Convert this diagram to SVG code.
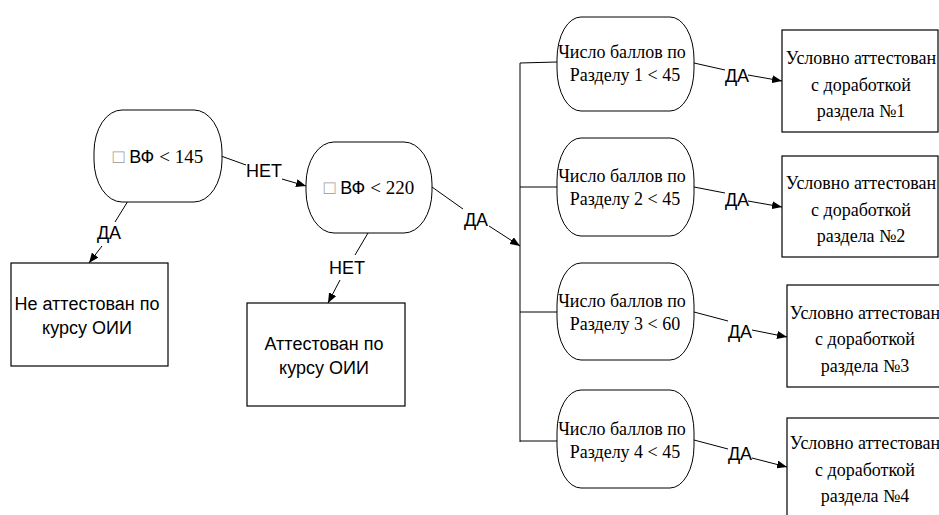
<svg xmlns="http://www.w3.org/2000/svg" width="939" height="515" viewBox="0 0 939 515">
<style>
.shape{fill:#fff;stroke:#000;stroke-width:1}
.box{fill:#fff;stroke:#000;stroke-width:1.2}
.ln{fill:none;stroke:#000;stroke-width:1}
.sans{font-family:"Liberation Sans",Arial,sans-serif;font-size:18px;fill:#000}
.serif{font-family:"Liberation Serif","Times New Roman",serif;font-size:18px;fill:#000}
.lbl{font-family:"Liberation Sans",Arial,sans-serif;font-size:18px;fill:#000;text-anchor:middle}
.c{text-anchor:middle}
.sq{fill:#999}
.big{font-size:19px}
</style>
<defs>
<marker id="arr" viewBox="0 0 10 8" refX="10" refY="4" markerWidth="10" markerHeight="8" markerUnits="userSpaceOnUse" orient="auto">
<path d="M0,0 L10,4 L0,8 z" fill="#000"/>
</marker>
</defs>
<g id="connectors">
<path class="ln" d="M221,156 L246,165"/>
<path class="ln" d="M282,179 L306,186" marker-end="url(#arr)"/>
<text class="lbl" x="264" y="177">НЕТ</text>
<path class="ln" d="M128,201 L115,222"/>
<path class="ln" d="M102,246 L89,263" marker-end="url(#arr)"/>
<text class="lbl" x="109" y="239">ДА</text>
<path class="ln" d="M368,233 L355,255"/>
<path class="ln" d="M340,280 L328,303" marker-end="url(#arr)"/>
<text class="lbl" x="347" y="274">НЕТ</text>
<path class="ln" d="M432,187 L463,209"/>
<path class="ln" d="M489,226 L520,246" marker-end="url(#arr)"/>
<text class="lbl" x="476" y="226">ДА</text>
<path class="ln" d="M520,63 L520,442 M520,63 L557,62 M520,187 L557,187 M520,312 L557,312 M520,441 L558,441"/>
<path class="ln" d="M694,63 L725,70"/>
<path class="ln" d="M748,75 L782,81" marker-end="url(#arr)"/>
<text class="lbl" x="737" y="82">ДА</text>
<path class="ln" d="M694,187 L725,193"/>
<path class="ln" d="M748,201 L782,207" marker-end="url(#arr)"/>
<text class="lbl" x="737" y="206">ДА</text>
<path class="ln" d="M694,312 L728,321"/>
<path class="ln" d="M752,330 L787,337" marker-end="url(#arr)"/>
<text class="lbl" x="740" y="338">ДА</text>
<path class="ln" d="M694,440 L728,449"/>
<path class="ln" d="M752,458 L787,467" marker-end="url(#arr)"/>
<text class="lbl" x="740" y="460">ДА</text>
</g>
<g id="n1">
<rect class="shape" x="94" y="110" width="128" height="92" rx="28" ry="42"/>
<text class="c" x="158" y="163"><tspan class="sans sq big">□</tspan><tspan class="sans"> ВФ </tspan><tspan class="serif big">&lt; 145</tspan></text>
</g>
<g id="n2">
<rect class="shape" x="306" y="142" width="126" height="91" rx="28" ry="42"/>
<text class="c" x="369" y="194"><tspan class="sans sq big">□</tspan><tspan class="sans"> ВФ </tspan><tspan class="serif big">&lt; 220</tspan></text>
</g>
<g id="box1">
<rect class="box" x="11" y="263" width="157" height="103"/>
<text class="sans c" x="87" y="310">Не аттестован по</text>
<text class="sans c" x="87" y="334">курсу ОИИ</text>
</g>
<g id="box2">
<rect class="box" x="247" y="303" width="158" height="103"/>
<text class="sans c" x="324" y="350">Аттестован по</text>
<text class="sans c" x="324" y="374">курсу ОИИ</text>
</g>
<g id="r1">
<rect class="shape" x="557" y="17" width="137" height="94" rx="24" ry="42"/>
<text class="serif c" x="622" y="58">Число баллов по</text>
<text class="serif c" x="625" y="81">Разделу 1 &lt; 45</text>
</g>
<g id="r2">
<rect class="shape" x="557" y="138" width="137" height="98" rx="24" ry="42"/>
<text class="serif c" x="622" y="182">Число баллов по</text>
<text class="serif c" x="625" y="205">Разделу 2 &lt; 45</text>
</g>
<g id="r3">
<rect class="shape" x="557" y="263" width="137" height="97" rx="24" ry="42"/>
<text class="serif c" x="622" y="307">Число баллов по</text>
<text class="serif c" x="625" y="330">Разделу 3 &lt; 60</text>
</g>
<g id="r4">
<rect class="shape" x="557" y="390" width="137" height="98" rx="24" ry="42"/>
<text class="serif c" x="622" y="435">Число баллов по</text>
<text class="serif c" x="625" y="458">Разделу 4 &lt; 45</text>
</g>
<g id="b1">
<rect class="box" x="782" y="30" width="156" height="102"/>
<text class="serif c" x="861" y="64">Условно аттестован</text>
<text class="serif c" x="861" y="91">с доработкой</text>
<text class="serif c" x="861" y="117">раздела №1</text>
</g>
<g id="b2">
<rect class="box" x="782" y="156" width="156" height="101"/>
<text class="serif c" x="861" y="189">Условно аттестован</text>
<text class="serif c" x="861" y="216">с доработкой</text>
<text class="serif c" x="861" y="242">раздела №2</text>
</g>
<g id="b3">
<rect class="box" x="787" y="285" width="156" height="102"/>
<text class="serif c" x="865" y="319">Условно аттестован</text>
<text class="serif c" x="865" y="345">с доработкой</text>
<text class="serif c" x="865" y="372">раздела №3</text>
</g>
<g id="b4">
<rect class="box" x="787" y="418" width="156" height="110"/>
<text class="serif c" x="865" y="449">Условно аттестован</text>
<text class="serif c" x="865" y="476">с доработкой</text>
<text class="serif c" x="865" y="502">раздела №4</text>
</g>
</svg>
